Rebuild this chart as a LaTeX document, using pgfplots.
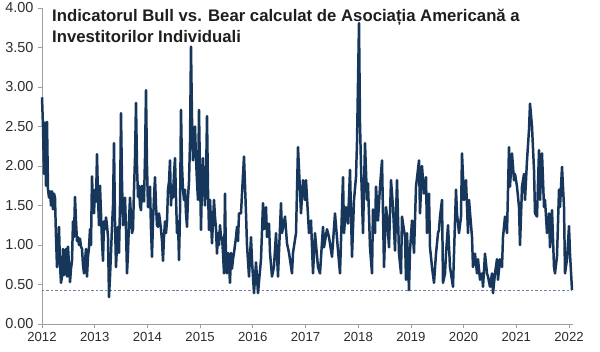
\documentclass[border=0pt]{standalone}
\usepackage{pgfplots}
\pgfplotsset{compat=1.18}
\usepackage{fontspec}
\setmainfont{Liberation Sans}
\definecolor{navy}{RGB}{22,54,92}
\definecolor{axgray}{RGB}{160,160,160}
\definecolor{lblgray}{RGB}{45,45,45}
\definecolor{dashc}{RGB}{110,130,155}
\pgfplotstableread{
w v
0 2.87
1 2.5
2 1.9
3 2.55
4 1.75
5 2.56
6 1.7
7 1.6
8 1.68
9 1.5
10 1.68
11 1.45
12 1.65
13 1.6
14 1.1
15 0.72
16 0.9
17 1.23
18 0.75
19 0.52
20 0.6
21 0.95
22 0.62
23 0.85
24 0.95
25 0.6
26 0.98
27 0.75
28 0.53
29 0.7
30 0.8
31 1.3
32 1.1
33 1.61
34 1.3
35 1.05
36 1.1
37 1.0
38 1.08
39 0.98
40 0.95
41 0.75
42 0.64
43 0.8
44 0.95
45 0.6
46 0.85
47 0.97
48 1.2
49 1.0
50 1.87
51 1.5
52 1.4
53 1.7
54 1.55
55 2.15
56 1.6
57 1.25
58 1.75
59 1.4
60 1.05
61 0.8
62 1.3
63 1.2
64 1.35
65 1.25
66 1.1
67 0.34
68 0.6
69 0.9
70 1.23
71 1.5
72 2.29
73 1.3
74 0.72
75 1.0
76 1.23
77 0.9
78 1.5
79 2.67
80 1.8
81 1.25
82 1.36
83 1.6
84 1.2
85 0.64
86 0.9
87 1.3
88 1.6
89 1.35
90 1.15
91 1.2
92 1.7
93 2.1
94 2.8
95 2.0
96 1.61
97 1.75
98 1.5
99 1.44
100 1.75
101 1.6
102 1.55
103 2.1
104 2.96
105 2.0
106 1.48
107 1.48
108 1.74
109 1.2
110 0.85
111 1.3
112 1.6
113 1.86
114 1.5
115 1.25
116 1.23
117 1.4
118 1.31
119 1.2
120 1.05
121 0.8
122 1.1
123 1.3
124 1.15
125 1.3
126 1.7
127 1.8
128 2.07
129 1.5
130 1.75
131 1.6
132 1.9
133 2.1
134 1.6
135 1.15
136 1.3
137 0.81
138 1.4
139 2.71
140 2.0
141 1.7
142 1.57
143 1.7
144 1.4
145 1.23
146 1.6
147 1.8
148 2.3
149 3.51
150 2.6
151 2.07
152 2.4
153 2.5
154 2.1
155 1.8
156 1.57
157 2.71
158 1.9
159 1.19
160 1.8
161 2.1
162 1.72
163 1.5
164 1.8
165 2.63
166 1.7
167 1.19
168 1.57
169 1.3
170 1.02
171 1.3
172 1.57
173 1.36
174 1.2
175 0.89
176 1.15
177 1.0
178 1.25
179 1.1
180 1.1
181 0.9
182 0.64
183 1.65
184 0.8
185 0.64
186 0.9
187 0.75
188 0.52
189 0.9
190 0.7
191 0.82
192 0.9
193 1.0
194 1.1
195 1.23
196 1.05
197 1.4
199 1.4
200 1.65
202 2.12
204 1.4
205 1.0
207 0.6
209 1.1
210 0.8
212 0.39
214 0.78
216 0.39
219 0.82
221 1.53
222 1.2
224 1.48
225 1.1
227 1.27
228 0.9
230 0.6
232 0.73
234 1.15
236 0.6
239 1.53
240 1.15
243 1.36
245 1.02
247 0.9
250 0.64
251 0.9
254 1.15
256 2.24
259 1.4
261 1.82
263 1.57
264 1.82
267 1.15
269 1.31
271 0.64
273 1.15
276 0.72
278 0.64
281 1.23
282 0.97
285 1.2
287 1.1
290 0.85
293 1.4
296 0.93
298 0.64
301 1.86
302 1.15
304 1.48
306 1.27
308 1.95
310 0.85
312 1.57
314 1.86
315 2.3
317 3.81
318 2.54
319 2.0
321 1.15
323 2.29
325 1.57
326 1.78
328 0.97
330 0.64
331 1.45
333 1.15
334 1.74
336 1.31
338 1.74
340 2.07
342 0.72
344 1.48
345 1.36
347 0.97
349 1.82
351 1.48
353 0.93
355 1.82
357 0.89
359 0.64
360 1.36
363 1.1
364 0.56
365 1.15
367 0.43
368 0.93
370 1.31
372 0.9
374 1.74
377 2.07
378 1.4
380 2.0
382 1.65
384 1.86
385 1.15
387 1.65
388 0.97
390 0.72
392 0.52
394 0.89
396 1.15
397 1.19
398 1.36
400 1.57
401 0.52
403 0.64
404 0.89
406 1.25
408 0.72
411 0.47
412 0.89
414 1.7
415 1.4
417 1.15
419 1.36
420 2.16
422 1.57
424 1.82
426 1.15
427 1.57
430 1.1
431 0.72
433 0.89
435 0.64
436 0.82
438 0.56
440 0.64
441 0.47
443 0.89
445 0.64
446 0.6
448 0.47
450 0.64
451 0.39
453 0.64
455 0.82
456 0.56
458 0.82
460 0.72
461 1.1
463 1.36
465 1.15
467 2.24
468 1.74
470 2.16
472 1.82
473 1.9
475 1.74
477 1.48
478 1.0
480 1.74
482 1.9
483 1.57
485 2.07
487 2.46
488 2.79
490 2.5
492 1.95
493 1.4
495 1.36
497 2.2
498 1.57
500 2.16
502 1.48
503 1.57
505 1.15
507 1.4
508 0.97
510 1.44
512 0.72
513 0.64
515 0.86
517 1.7
518 1.48
520 1.99
522 1.48
523 0.64
525 0.82
527 1.24
528 0.89
530 0.43
}\bbdata
\begin{document}
\begin{tikzpicture}
\begin{axis}[
  at={(0,0)}, anchor=south west,
  scale only axis, width=531bp, height=316bp,
  xmin=0, xmax=531, ymin=0, ymax=4,
  axis x line*=bottom, axis y line*=left,
  axis line style={draw=axgray, line width=0.8pt, -},
  tick style={draw=axgray, line width=0.8pt},
  tick align=outside, major tick length=4bp,
  xtick={0,52.7,105.4,158.1,210.8,263.5,316.2,368.9,421.6,474.3,527},
  xticklabels={2012,2013,2014,2015,2016,2017,2018,2019,2020,2021,2022},
  ytick={0,0.5,1,1.5,2,2.5,3,3.5,4},
  ticklabel style={text=lblgray},
  yticklabel style={/pgf/number format/fixed, /pgf/number format/fixed zerofill, /pgf/number format/precision=2, /pgf/number format/assume math mode=true, xshift=-1bp, font=\fontsize{14.5}{16}\selectfont},
  xticklabel style={yshift=-1bp, font=\fontsize{13.2}{15}\selectfont},
  clip=false,
]
\addplot[dashc, line width=0.9pt, dash pattern=on 2.5pt off 2pt] coordinates {(0,0.43) (530,0.43)};
\addplot[navy, line width=2.5pt, line join=round, mark=none] table[x=w, y=v] {\bbdata};
\node[anchor=north west, align=left, font=\bfseries\fontsize{16.8}{21}\selectfont, text={rgb,255:red,30;green,30;blue,30}, inner sep=0pt]
  at (rel axis cs:0,1) [xshift=10bp, yshift=-1bp]
  {Indicatorul Bull vs. Bear calculat de Asociația Americană a\\Investitorilor Individuali};
\end{axis}
\pgfresetboundingbox
\path[use as bounding box] (-42bp,-28bp) rectangle (558bp,324bp);
\end{tikzpicture}
\end{document}
